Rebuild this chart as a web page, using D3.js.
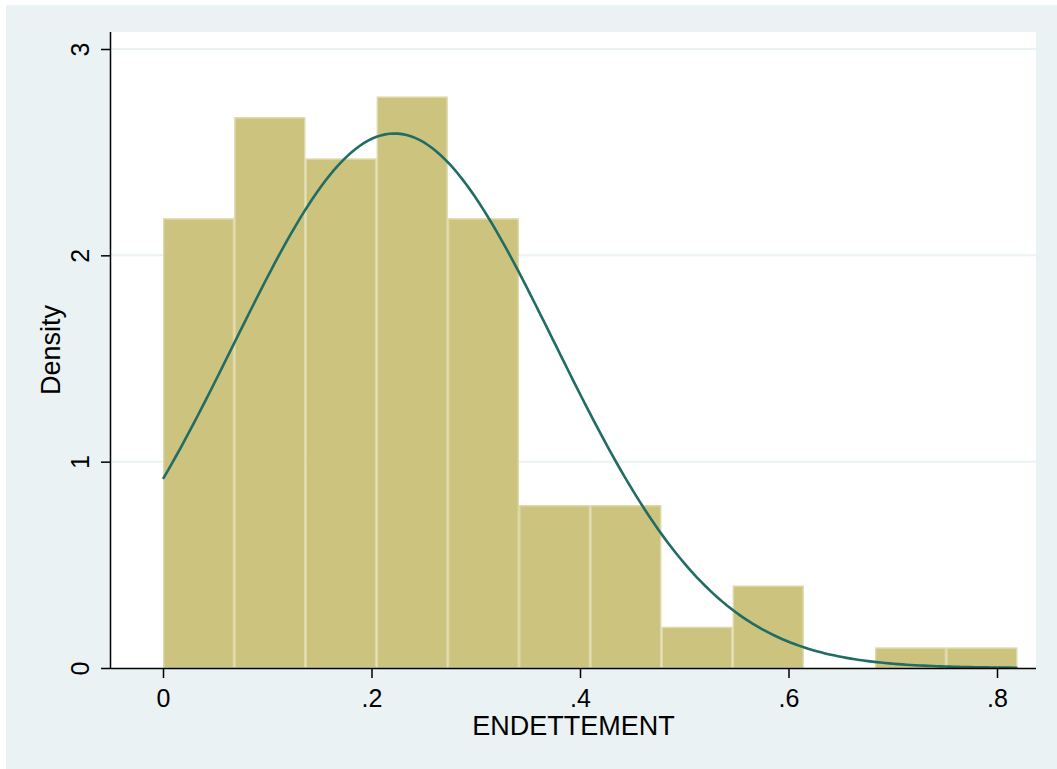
<!DOCTYPE html>
<html><head><meta charset="utf-8">
<script src="https://cdn.jsdelivr.net/npm/d3@7"></script>
<style>body{margin:0;background:#fff}svg{display:block}text{font-family:"Liberation Sans",Arial,sans-serif;fill:#000}</style>
</head><body><svg id="c" width="1057" height="769"></svg>
<script>
const binStart = 0;
const binWidth = 0.0683;
const densities = [2.18, 2.67, 2.47, 2.77, 2.18, 0.79, 0.79, 0.20, 0.40, 0, 0.10, 0.10];
const normalMean = 0.222;
const normalSd = 0.154;
const xTicks = [0, 0.2, 0.4, 0.6, 0.8];
const xTickLabels = ["0", ".2", ".4", ".6", ".8"];
const yTicks = [0, 1, 2, 3];
const yTickLabels = ["0", "1", "2", "3"];

const svg = d3.select("#c");
svg.append("rect").attr("x",6).attr("y",5).attr("width",1051).attr("height",764).attr("fill","#eaf2f3");
const L=111, R=1036, T=32, B=668;
svg.append("rect").attr("x",L).attr("y",T).attr("width",R-L).attr("height",B-T).attr("fill","#fff");

const x = d3.scaleLinear().domain([0,0.8]).range([163,997]);
const y = d3.scaleLinear().domain([0,3]).range([668,49]);

// grid
svg.append("g").selectAll("line").data(yTicks.filter(d=>d>0)).join("line")
  .attr("x1",L).attr("x2",R).attr("y1",d=>y(d)).attr("y2",d=>y(d))
  .attr("stroke","#eaf2f3").attr("stroke-width",2);

// bars
const bins = densities.map((d,i)=>({x0:binStart+i*binWidth,x1:binStart+(i+1)*binWidth,d}));
svg.append("g").selectAll("rect").data(bins.filter(b=>b.d>0)).join("rect")
  .attr("x",b=>x(b.x0)+0.75).attr("width",b=>x(b.x1)-x(b.x0)-1.5)
  .attr("y",b=>y(b.d)+0.75).attr("height",b=>y(0)-y(b.d)-0.75)
  .attr("fill","#cbc37e").attr("stroke","#ddd8a5").attr("stroke-width",1.5);

// normal curve
const xmax = binStart + densities.length*binWidth;
const pts = d3.range(0, 201).map(i=>{
  const xv = binStart + (xmax-binStart)*i/200;
  const z = (xv-normalMean)/normalSd;
  return [xv, Math.exp(-0.5*z*z)/(normalSd*Math.sqrt(2*Math.PI))];
});
svg.append("path").datum(pts)
  .attr("d", d3.line().x(d=>x(d[0])).y(d=>y(d[1])).curve(d3.curveLinear))
  .attr("fill","none").attr("stroke","#216c63").attr("stroke-width",2.6);

// axes
const xa = svg.append("g").attr("transform",`translate(0,${B})`)
  .call(d3.axisBottom(x).tickValues(xTicks).tickFormat((d,i)=>xTickLabels[i]).tickSize(10).tickSizeOuter(0));
xa.attr("font-size",null).attr("font-family",null);
xa.select(".domain").attr("d",`M${L},0.5H${R}`).attr("stroke","#000").attr("stroke-width",1.5);
xa.selectAll(".tick line").attr("stroke","#000").attr("stroke-width",1.5);
xa.selectAll(".tick text").style("font-size","25px").attr("y",39).attr("dy",null);

const ya = svg.append("g").attr("transform",`translate(${L},0)`)
  .call(d3.axisLeft(y).tickValues(yTicks).tickFormat((d,i)=>yTickLabels[i]).tickSize(10).tickSizeOuter(0));
ya.attr("font-size",null).attr("font-family",null);
ya.select(".domain").attr("d",`M-0.5,${T}V${B}`).attr("stroke","#000").attr("stroke-width",1.5);
ya.selectAll(".tick line").attr("stroke","#000").attr("stroke-width",1.5);
ya.selectAll(".tick text").style("font-size","25px").attr("x",0).attr("y",0).attr("dy",null)
  .attr("text-anchor","middle").attr("transform","translate(-22,0) rotate(-90)");

svg.append("text").attr("x",(L+R)/2).attr("y",735).attr("text-anchor","middle").style("font-size","27px").text("ENDETTEMENT");
svg.append("text").attr("transform",`translate(60,350) rotate(-90)`).attr("text-anchor","middle").style("font-size","27px").text("Density");
</script></body></html>
